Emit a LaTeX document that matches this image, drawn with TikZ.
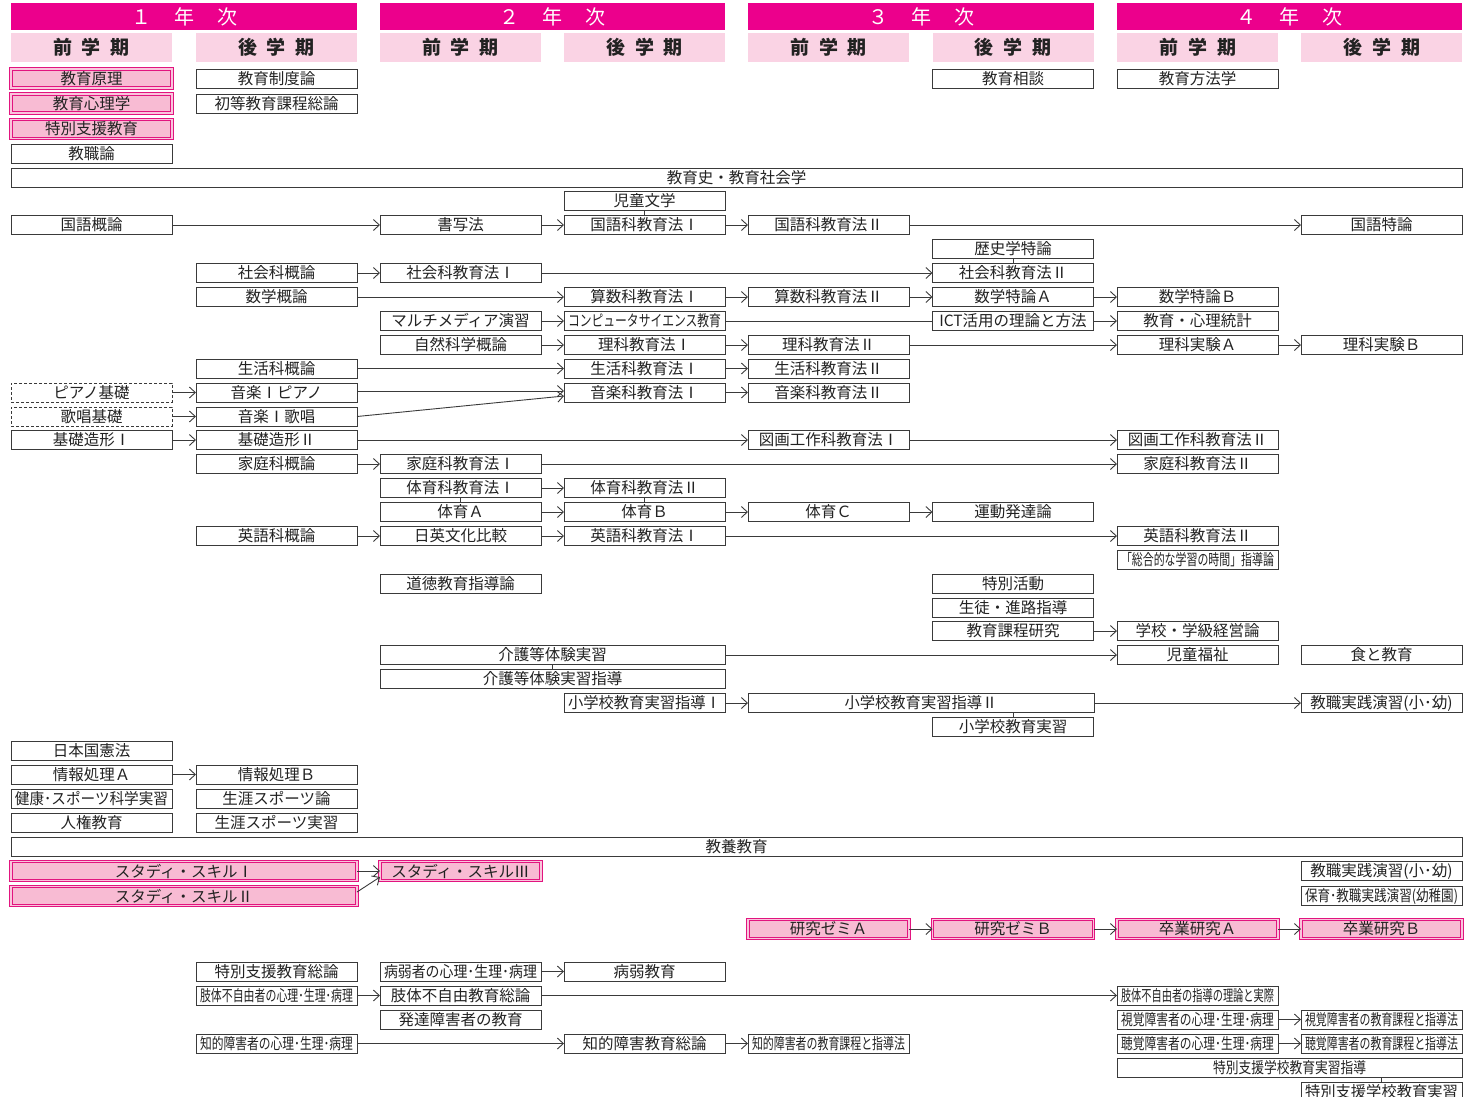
\documentclass[tikz,border=0pt]{standalone}
\usepackage{fontspec}
\usepackage{graphicx}
\setmainfont{Noto Sans CJK JP}
\usetikzlibrary{arrows.meta,calc}
\definecolor{mag}{HTML}{EC008C}
\definecolor{semp}{HTML}{FAD3E4}
\definecolor{pkfill}{HTML}{F8BBD3}
\definecolor{pkline}{HTML}{E2147F}
\definecolor{pkgap}{HTML}{F9C6DC}
\definecolor{lc}{HTML}{3A3A3A}
\definecolor{tc}{HTML}{222222}
\newsavebox\fitbox
\newcommand\fitt[1]{\sbox\fitbox{#1}\ifdim\wd\fitbox>153pt\resizebox{153pt}{\ht\fitbox}{\usebox\fitbox}\else\usebox\fitbox\fi}
\newcommand\bxfont{\fontsize{15.5}{18}\selectfont}
\newcommand\mybox[5][]{\node[bx,#1] (#2) at (#3,#4) {\fitt{#5}};}
\def\ca{91.5}\def\cb{276.5}\def\cc{460.5}\def\cd{644.5}
\def\ce{828.5}\def\cf{1013}\def\cg{1197.5}\def\ch{1381.5}
\begin{document}
\begin{tikzpicture}[x=1pt,y=-1pt,
  bx/.style={draw=lc, line width=0.9pt, fill=white, minimum width=161pt, minimum height=19pt, inner sep=0pt, outer sep=0pt, text=tc, font=\bxfont},
  pk/.style={draw=pkline, line width=0.85pt, double=pkgap, double distance=1.5pt, fill=pkfill},
  dsh/.style={dashed, dash pattern=on 3pt off 2pt},
  wide/.style={minimum width=#1pt},
  arr/.style={draw=lc, line width=0.9pt, -{Straight Barb[length=6pt,width=11pt]}},
  ln/.style={draw=lc, line width=0.9pt},
  yr/.style={fill=mag, minimum height=27pt, inner sep=0pt, text=white, font=\fontsize{20}{22}\selectfont},
  sem/.style={fill=semp, minimum width=161pt, minimum height=29pt, inner sep=0pt, text=tc, font=\fontsize{19}{21}\selectfont\bfseries}]
\useasboundingbox (0,0) rectangle (1470,1096);
\clip (0,0) rectangle (1470,1096);
% headers
\node[yr, minimum width=346pt] (y1) at (184,16.5) {１\hspace{23pt}年\hspace{23pt}次};
\node[yr, minimum width=345pt] (y2) at (552.5,16.5) {２\hspace{23pt}年\hspace{23pt}次};
\node[yr, minimum width=346pt] (y3) at (921,16.5) {３\hspace{23pt}年\hspace{23pt}次};
\node[yr, minimum width=345pt] (y4) at (1289.5,16.5) {４\hspace{23pt}年\hspace{23pt}次};
\node[sem] (s1) at (\ca,47.5) {前\hspace{10pt}学\hspace{10pt}期};
\node[sem] (s2) at (\cb,47.5) {後\hspace{10pt}学\hspace{10pt}期};
\node[sem] (s3) at (\cc,47.5) {前\hspace{10pt}学\hspace{10pt}期};
\node[sem] (s4) at (\cd,47.5) {後\hspace{10pt}学\hspace{10pt}期};
\node[sem] (s5) at (\ce,47.5) {前\hspace{10pt}学\hspace{10pt}期};
\node[sem] (s6) at (\cf,47.5) {後\hspace{10pt}学\hspace{10pt}期};
\node[sem] (s7) at (\cg,47.5) {前\hspace{10pt}学\hspace{10pt}期};
\node[sem] (s8) at (\ch,47.5) {後\hspace{10pt}学\hspace{10pt}期};
% rows
\mybox[pk]{genri}{\ca}{78.5}{教育原理}
\mybox{seido}{\cb}{78.5}{教育制度論}
\mybox{sodan}{\cf}{78.5}{教育相談}
\mybox{hoho}{\cg}{78.5}{教育方法学}
\mybox[pk]{shinri}{\ca}{103.5}{教育心理学}
\mybox{shoto}{\cb}{103.5}{初等教育課程総論}
\mybox[pk]{tokushi}{\ca}{129}{特別支援教育}
\mybox{kyoshokuron}{\ca}{153.5}{教職論}
\mybox[wide=1451]{kyoikushi}{736.5}{177.5}{教育史・教育社会学}
\mybox{jido}{\cd}{201}{児童文学}
\mybox{kokugai}{\ca}{225}{国語概論}
\mybox{shosha}{\cc}{225}{書写法}
\mybox{koku1}{\cd}{225}{国語科教育法Ⅰ}
\mybox{koku2}{\ce}{225}{国語科教育法Ⅱ}
\mybox{kokutoku}{\ch}{225}{国語特論}
\mybox{rekishi}{\cf}{249}{歴史学特論}
\mybox{shagai}{\cb}{273}{社会科概論}
\mybox{sha1}{\cc}{273}{社会科教育法Ⅰ}
\mybox{sha2}{\cf}{273}{社会科教育法Ⅱ}
\mybox{sugai}{\cb}{297}{数学概論}
\mybox{san1}{\cd}{297}{算数科教育法Ⅰ}
\mybox{san2}{\ce}{297}{算数科教育法Ⅱ}
\mybox{sutokuA}{\cf}{297}{数学特論Ａ}
\mybox{sutokuB}{\cg}{297}{数学特論Ｂ}
\mybox{multi}{\cc}{321}{マルチメディア演習}
\mybox{compsci}{\cd}{321}{コンピュータサイエンス教育}
\mybox{ict}{\cf}{321}{ICT活用の理論と方法}
\mybox{tokei}{\cg}{321}{教育・心理統計}
\mybox{shizen}{\cc}{345}{自然科学概論}
\mybox{rika1}{\cd}{345}{理科教育法Ⅰ}
\mybox{rika2}{\ce}{345}{理科教育法Ⅱ}
\mybox{jikA}{\cg}{345}{理科実験Ａ}
\mybox{jikB}{\ch}{345}{理科実験Ｂ}
\mybox{seigai}{\cb}{368.5}{生活科概論}
\mybox{sei1}{\cd}{368.5}{生活科教育法Ⅰ}
\mybox{sei2}{\ce}{368.5}{生活科教育法Ⅱ}
\mybox[dsh]{piano}{\ca}{392.5}{ピアノ基礎}
\mybox{onP}{\cb}{392.5}{音楽Ⅰピアノ}
\mybox{on1}{\cd}{392.5}{音楽科教育法Ⅰ}
\mybox{on2}{\ce}{392.5}{音楽科教育法Ⅱ}
\mybox[dsh]{kasho}{\ca}{416.5}{歌唱基礎}
\mybox{onK}{\cb}{416.5}{音楽Ⅰ歌唱}
\mybox{zokei1}{\ca}{440}{基礎造形Ⅰ}
\mybox{zokei2}{\cb}{440}{基礎造形Ⅱ}
\mybox{zuga1}{\ce}{440}{図画工作科教育法Ⅰ}
\mybox{zuga2}{\cg}{440}{図画工作科教育法Ⅱ}
\mybox{kategai}{\cb}{464}{家庭科概論}
\mybox{kate1}{\cc}{464}{家庭科教育法Ⅰ}
\mybox{kate2}{\cg}{464}{家庭科教育法Ⅱ}
\mybox{taiho1}{\cc}{488}{体育科教育法Ⅰ}
\mybox{taiho2}{\cd}{488}{体育科教育法Ⅱ}
\mybox{taiA}{\cc}{512}{体育Ａ}
\mybox{taiB}{\cd}{512}{体育Ｂ}
\mybox{taiC}{\ce}{512}{体育Ｃ}
\mybox{undo}{\cf}{512}{運動発達論}
\mybox{eigai}{\cb}{536}{英語科概論}
\mybox{nichiei}{\cc}{536}{日英文化比較}
\mybox{ei1}{\cd}{536}{英語科教育法Ⅰ}
\mybox{ei2}{\cg}{536}{英語科教育法Ⅱ}
\mybox{sogo}{\cg}{560}{「総合的な学習の時間」指導論}
\mybox{dotoku}{\cc}{583.5}{道徳教育指導論}
\mybox{tokkatsu}{\cf}{583.5}{特別活動}
\mybox{shinro}{\cf}{607.5}{生徒・進路指導}
\mybox{katei}{\cf}{631}{教育課程研究}
\mybox{gakkyu}{\cg}{631}{学校・学級経営論}
\mybox[wide=345]{kaigo}{552.5}{655}{介護等体験実習}
\mybox{fukushi}{\cg}{655}{児童福祉}
\mybox{shoku}{\ch}{655}{食と教育}
\mybox[wide=345]{kaigoshido}{552.5}{679}{介護等体験実習指導}
\mybox{sho1}{\cd}{703}{小学校教育実習指導Ⅰ}
\mybox[wide=346]{sho2}{921}{703}{小学校教育実習指導Ⅱ}
\mybox{enshuA}{\ch}{703}{教職実践演習(小･幼)}
\mybox{shojisshu}{\cf}{727}{小学校教育実習}
\mybox{kenpo}{\ca}{750.5}{日本国憲法}
\mybox{johoA}{\ca}{774.5}{情報処理Ａ}
\mybox{johoB}{\cb}{774.5}{情報処理Ｂ}
\mybox{kenko}{\ca}{798.5}{健康･スポーツ科学実習}
\mybox{shogairon}{\cb}{798.5}{生涯スポーツ論}
\mybox{jinken}{\ca}{822.5}{人権教育}
\mybox{shogaijis}{\cb}{822.5}{生涯スポーツ実習}
\mybox[wide=1451]{kyoyo}{736.5}{846.5}{教養教育}
\mybox[pk,wide=346]{ss1}{184}{871}{スタディ・スキルⅠ}
\mybox[pk]{ss3}{\cc}{871}{スタディ・スキルⅢ}
\mybox{enshuB}{\ch}{871}{教職実践演習(小･幼)}
\mybox[pk,wide=346]{ss2}{184}{896}{スタディ・スキルⅡ}
\mybox{hoiku}{\ch}{896}{保育･教職実践演習(幼稚園)}
\mybox[pk]{zemiA}{\ce}{929}{研究ゼミＡ}
\mybox[pk]{zemiB}{\cf}{929}{研究ゼミＢ}
\mybox[pk]{sotsuA}{\cg}{929}{卒業研究Ａ}
\mybox[pk]{sotsuB}{\ch}{929}{卒業研究Ｂ}
\mybox{tsoron}{\cb}{971.5}{特別支援教育総論}
\mybox{byoshin}{\cc}{971.5}{病弱者の心理･生理･病理}
\mybox{byokyo}{\cd}{971.5}{病弱教育}
\mybox{shishin}{\cb}{995.5}{肢体不自由者の心理･生理･病理}
\mybox{shisoron}{\cc}{995.5}{肢体不自由教育総論}
\mybox{shijissai}{\cg}{995.5}{肢体不自由者の指導の理論と実際}
\mybox{hattatsu}{\cc}{1019.5}{発達障害者の教育}
\mybox{shikashin}{\cg}{1019.5}{視覚障害者の心理･生理･病理}
\mybox{shikakatei}{\ch}{1019.5}{視覚障害者の教育課程と指導法}
\mybox{chishin}{\cb}{1043.5}{知的障害者の心理･生理･病理}
\mybox{chisoron}{\cd}{1043.5}{知的障害教育総論}
\mybox{chikatei}{\ce}{1043.5}{知的障害者の教育課程と指導法}
\mybox{choshin}{\cg}{1043.5}{聴覚障害者の心理･生理･病理}
\mybox{chokatei}{\ch}{1043.5}{聴覚障害者の教育課程と指導法}
\mybox[wide=345]{tokshido}{1289.5}{1067.5}{特別支援学校教育実習指導}
\mybox{tokjis}{\ch}{1091.5}{特別支援学校教育実習}
% ticks
\draw[ln] (jido.south) -- (koku1.north);
\draw[ln] (rekishi.south) -- (sha2.north);
\draw[ln] (taiho1.south) -- (taiA.north);
\draw[ln] (taiho2.south) -- (taiB.north);
\draw[ln] (kaigo.south) -- (kaigoshido.north);
\draw[ln] (shojisshu.north |- sho2.south) -- (shojisshu.north);
\draw[ln] (tokjis.north |- tokshido.south) -- (tokjis.north);
% arrows
\draw[arr] (kokugai.east) -- (shosha.west);
\draw[arr] (shosha.east) -- (koku1.west);
\draw[arr] (koku1.east) -- (koku2.west);
\draw[arr] (koku2.east) -- (kokutoku.west);
\draw[arr] (shagai.east) -- (sha1.west);
\draw[arr] (sha1.east) -- (sha2.west);
\draw[arr] (sugai.east) -- (san1.west);
\draw[arr] (san1.east) -- (san2.west);
\draw[arr] (san2.east) -- (sutokuA.west);
\draw[arr] (sutokuA.east) -- (sutokuB.west);
\draw[arr] (multi.east) -- (compsci.west);
\draw[ln] (compsci.east) -- (ict.west);
\draw[arr] (ict.east) -- (tokei.west);
\draw[arr] (shizen.east) -- (rika1.west);
\draw[arr] (rika1.east) -- (rika2.west);
\draw[arr] (rika2.east) -- (jikA.west);
\draw[arr] (jikA.east) -- (jikB.west);
\draw[arr] (seigai.east) -- (sei1.west);
\draw[arr] (sei1.east) -- (sei2.west);
\draw[arr] (piano.east) -- (onP.west);
\draw[arr] (kasho.east) -- (onK.west);
\draw[arr] ($(onP.east)+(0,-1.5)$) -- ($(on1.west)+(0,-1.5)$);
\draw[arr] (onK.east) -- ($(on1.west)+(0,3.5)$);
\draw[arr] (on1.east) -- (on2.west);
\draw[arr] (zokei1.east) -- (zokei2.west);
\draw[arr] (zokei2.east) -- (zuga1.west);
\draw[arr] (zuga1.east) -- (zuga2.west);
\draw[arr] (kategai.east) -- (kate1.west);
\draw[arr] (kate1.east) -- (kate2.west);
\draw[arr] (taiho1.east) -- (taiho2.west);
\draw[arr] (taiA.east) -- (taiB.west);
\draw[arr] (taiB.east) -- (taiC.west);
\draw[arr] (taiC.east) -- (undo.west);
\draw[arr] (eigai.east) -- (nichiei.west);
\draw[arr] (nichiei.east) -- (ei1.west);
\draw[arr] (ei1.east) -- (ei2.west);
\draw[arr] (katei.east) -- (gakkyu.west);
\draw[arr] (kaigo.east) -- (fukushi.west);
\draw[arr] (sho1.east) -- (sho2.west);
\draw[arr] (sho2.east) -- (enshuA.west);
\draw[arr] (johoA.east) -- (johoB.west);
\draw[arr] (ss1.east) -- (ss3.west);
\draw[arr] ($(ss2.east)+(0,-4)$) -- ($(ss3.west)+(0,6)$);
\draw[arr] (zemiA.east) -- (zemiB.west);
\draw[arr] (zemiB.east) -- (sotsuA.west);
\draw[arr] (sotsuA.east) -- (sotsuB.west);
\draw[arr] (byoshin.east) -- (byokyo.west);
\draw[arr] (shishin.east) -- (shisoron.west);
\draw[arr] (shisoron.east) -- (shijissai.west);
\draw[arr] (chishin.east) -- (chisoron.west);
\draw[arr] (chisoron.east) -- (chikatei.west);
\draw[arr] (shikashin.east) -- (shikakatei.west);
\draw[arr] (choshin.east) -- (chokatei.west);
\end{tikzpicture}
\end{document}
